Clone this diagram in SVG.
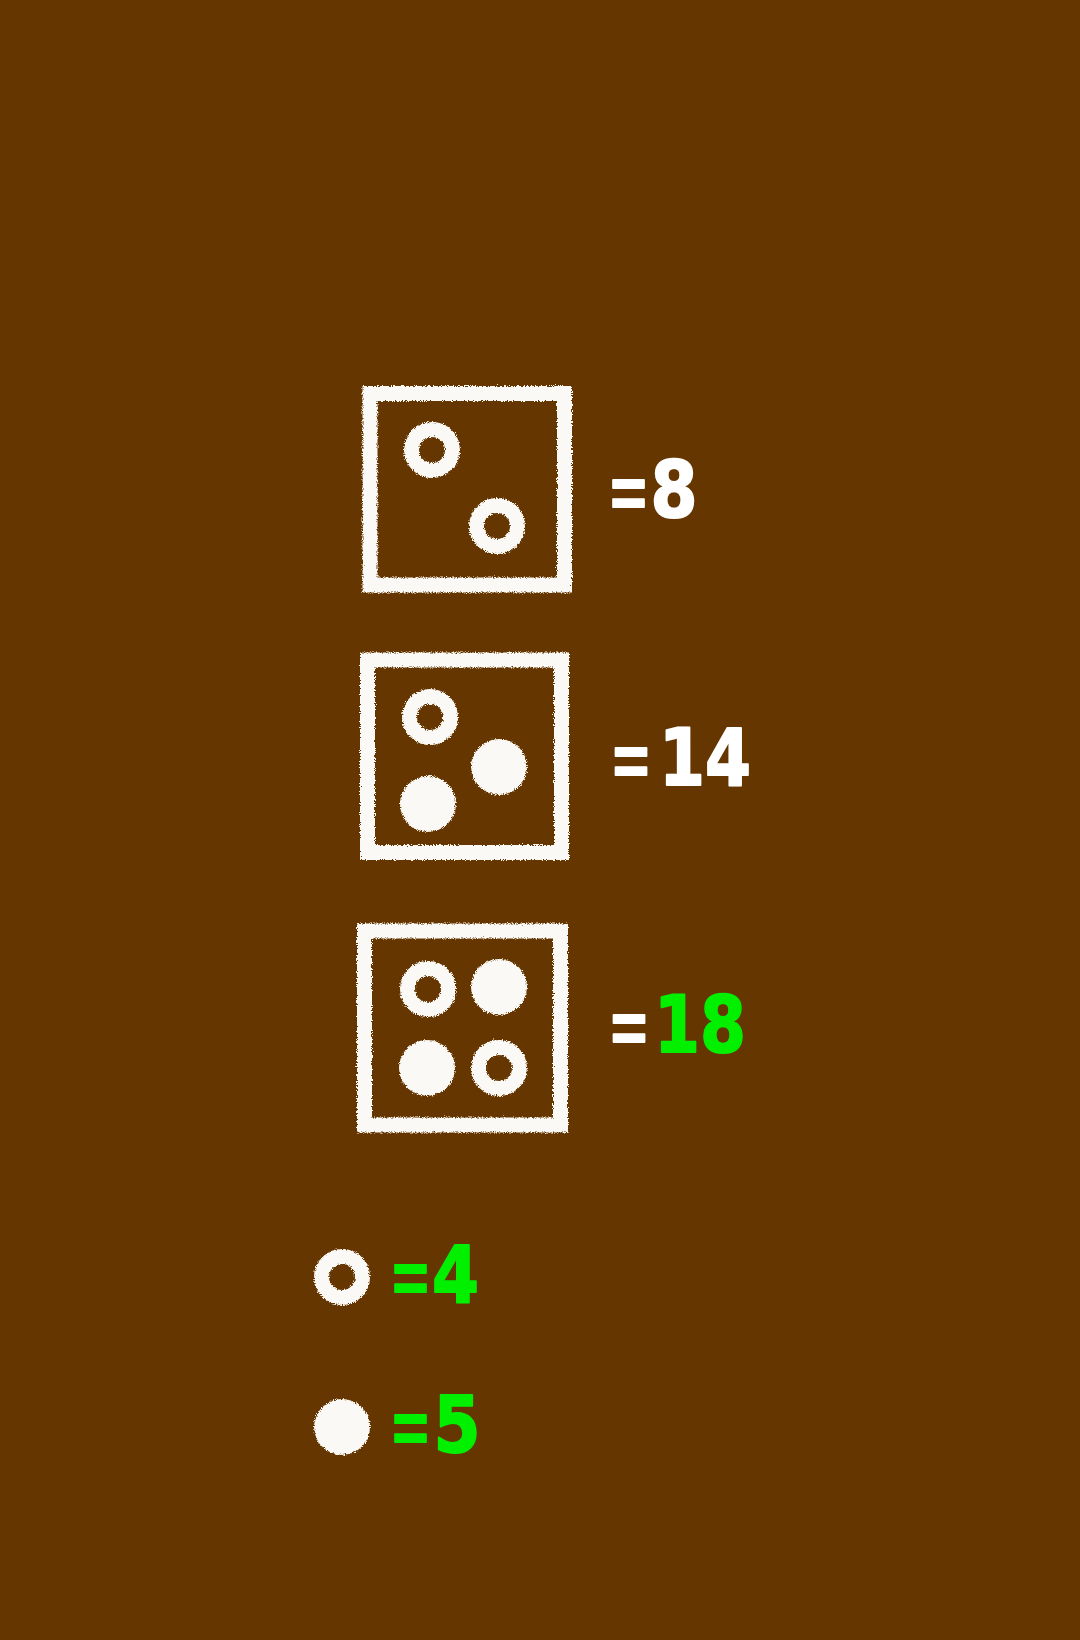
<svg xmlns="http://www.w3.org/2000/svg" width="1080" height="1640" viewBox="0 0 1080 1640">
<defs>
<style>
.bg{fill:#663600}
.frame{fill:none;stroke:#fbf9f5;stroke-width:15}
.ring{fill:none;stroke:#fbf9f5;stroke-width:15}
.dot{fill:#fbf9f5}
.eq{font-family:"Liberation Sans",Arial,sans-serif;font-weight:bold;font-size:72px;text-anchor:middle}
.num{font-family:"DejaVu Sans",Verdana,sans-serif;font-weight:bold;font-size:78px;text-anchor:middle}
.w{fill:#ffffff;stroke:#ffffff;stroke-width:2;stroke-linejoin:round}
.g{fill:#00f000;stroke:#00f000;stroke-width:2;stroke-linejoin:round}
</style>
<filter id="chalk" filterUnits="userSpaceOnUse" x="0" y="0" width="1080" height="1640">
<feTurbulence type="fractalNoise" baseFrequency="0.9" numOctaves="2" seed="4" result="n"/>
<feDisplacementMap in="SourceGraphic" in2="n" scale="5" xChannelSelector="R" yChannelSelector="G"/>
</filter>
</defs>
<rect class="bg" x="0" y="0" width="1080" height="1640"/>

<g id="card1">
<g filter="url(#chalk)">
<rect class="frame" x="370" y="393.5" width="194.5" height="191.5"/>
<circle class="ring" cx="432" cy="450" r="20.5"/>
<circle class="ring" cx="497" cy="526" r="20.5"/>
</g>
<text class="eq w" x="628.5" y="517" textLength="36" lengthAdjust="spacingAndGlyphs">=</text>
<text class="num w" x="674" y="517" textLength="47" lengthAdjust="spacingAndGlyphs">8</text>
</g>

<g id="card2">
<g filter="url(#chalk)">
<rect class="frame" x="367.5" y="660" width="194" height="192.5"/>
<circle class="ring" cx="430" cy="717" r="20.5"/>
<circle class="dot" cx="499" cy="767" r="28"/>
<circle class="dot" cx="428" cy="804" r="28"/>
</g>
<text class="eq w" x="631" y="785" textLength="36" lengthAdjust="spacingAndGlyphs">=</text>
<text class="num w" x="705" y="785" textLength="92" lengthAdjust="spacingAndGlyphs">14</text>
</g>

<g id="card3">
<g filter="url(#chalk)">
<rect class="frame" x="364.5" y="931" width="196" height="194"/>
<circle class="ring" cx="428" cy="989" r="20.5"/>
<circle class="dot" cx="499" cy="987" r="28"/>
<circle class="dot" cx="427" cy="1068" r="28"/>
<circle class="ring" cx="499" cy="1068" r="20.5"/>
</g>
<text class="eq w" x="629" y="1052" textLength="36" lengthAdjust="spacingAndGlyphs">=</text>
<text class="num g" x="700" y="1052" textLength="92" lengthAdjust="spacingAndGlyphs">18</text>
</g>

<g id="legend-ring">
<circle class="ring" cx="342" cy="1277" r="20.5" filter="url(#chalk)"/>
<text class="eq g" x="410.5" y="1302" textLength="36" lengthAdjust="spacingAndGlyphs">=</text>
<text class="num g" x="455.5" y="1302" textLength="47" lengthAdjust="spacingAndGlyphs">4</text>
</g>

<g id="legend-dot">
<circle class="dot" cx="342" cy="1427" r="28" filter="url(#chalk)"/>
<text class="eq g" x="410.5" y="1452" textLength="36" lengthAdjust="spacingAndGlyphs">=</text>
<text class="num g" x="457" y="1452" textLength="47" lengthAdjust="spacingAndGlyphs">5</text>
</g>
</svg>
